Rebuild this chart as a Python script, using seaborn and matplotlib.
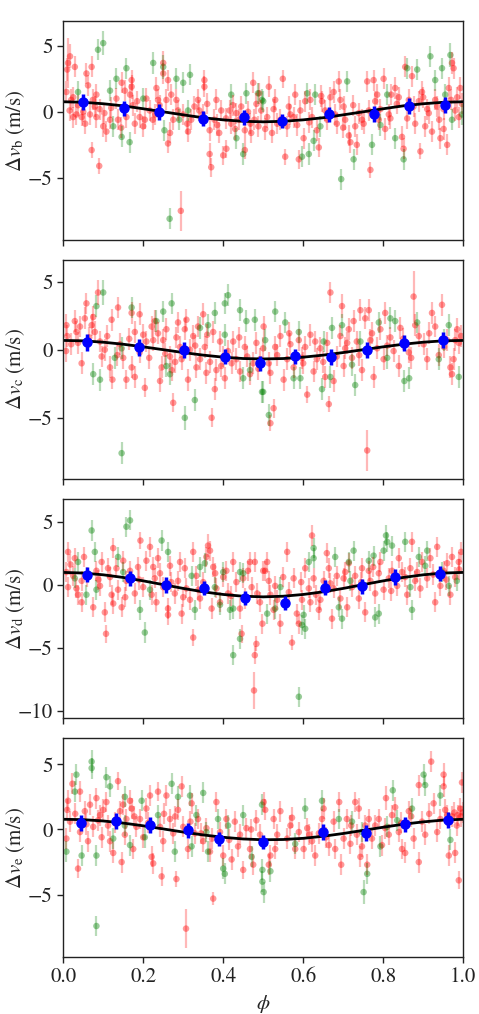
import matplotlib
matplotlib.use("Agg")
import matplotlib.pyplot as plt
import seaborn as sns

# Phase-folded RV residuals for planets b, c, d, e
# each point: (phase, dv [m/s], error [m/s])

# ---------- planet b ----------
red_b = [
    (0.012, 3.7, 1.9), (0.01, 3.2, 0.9), (0.017, 4.2, 0.9), (0.029, 3.4, 0.8), (0.008, 1.5, 0.8),
    (0.025, 1.1, 0.8), (0.033, -0.2, 0.8), (0.025, -0.4, 0.8), (0.046, -0.4, 0.7), (0.058, 2.9, 0.8),
    (0.062, 2.0, 0.8), (0.071, 3.4, 0.8), (0.071, -2.9, 0.6), (0.09, -4.1, 0.6), (0.083, 1.3, 0.8),
    (0.079, 0.4, 0.8), (0.067, -0.2, 0.8), (0.1, -1.1, 0.8), (0.108, -1.5, 0.8), (0.117, -0.6, 0.7),
    (0.083, -0.4, 0.8), (0.133, 1.0, 0.8), (0.146, 2.2, 0.8), (0.154, 1.6, 0.8), (0.171, 2.4, 0.8),
    (0.171, 1.9, 0.9), (0.167, 1.3, 0.8), (0.179, -0.9, 0.8), (0.2, -1.1, 0.8), (0.204, -0.6, 0.7),
    (0.208, 1.0, 0.8), (0.233, 1.8, 0.8), (0.237, 0.9, 0.8), (0.25, 3.7, 0.9), (0.25, 2.9, 0.8),
    (0.262, 2.4, 0.8), (0.258, 0.9, 0.8), (0.267, -1.6, 0.8), (0.262, -2.4, 0.7), (0.275, -0.6, 0.8),
    (0.283, 0.9, 0.8), (0.294, -7.5, 1.5), (0.312, -1.5, 0.8), (0.32, -0.6, 0.8), (0.337, 0.9, 0.8),
    (0.34, 0.1, 0.8), (0.353, 2.4, 0.8), (0.353, 1.9, 0.8), (0.366, -1.4, 0.8), (0.366, -3.2, 0.8),
    (0.37, -4.2, 0.7), (0.383, 0.9, 0.8), (0.39, -1.6, 0.8), (0.4, -3.3, 0.7), (0.408, -2.8, 0.7),
    (0.416, 0.1, 0.8), (0.42, -0.9, 0.8), (0.433, -0.1, 0.8), (0.454, -2.9, 0.7), (0.454, -1.4, 0.8),
    (0.47, -1.6, 0.8), (0.475, 2.2, 0.8), (0.483, 0.6, 0.8), (0.49, 1.4, 0.8),
    (0.016, 0.1, 0.8), (0.037, 0.5, 0.8), (0.05, 0.0, 0.8), (0.074, 0.9, 0.8), (0.091, 0.2, 0.8),
    (0.103, -0.1, 0.8), (0.137, -0.6, 0.8), (0.158, -0.4, 0.8), (0.174, 0.5, 0.8), (0.191, -0.4, 0.8),
    (0.216, 0.1, 0.8), (0.224, -0.6, 0.8), (0.241, 0.5, 0.8), (0.287, 0.1, 0.8), (0.3, -0.2, 0.8),
    (0.328, 0.4, 0.8), (0.349, -0.2, 0.8), (0.378, -0.6, 0.8), (0.395, 0.1, 0.8), (0.407, -0.5, 0.8),
    (0.424, 0.5, 0.8), (0.44, -0.6, 0.8), (0.462, 0.0, 0.8), (0.478, -0.6, 0.8), (0.495, 0.1, 0.8),
    (0.02, 0.9, 0.8), (0.055, -0.9, 0.8), (0.12, 0.3, 0.8), (0.145, -1.2, 0.8), (0.185, 0.8, 0.8),
    (0.23, -0.2, 0.8), (0.27, 1.3, 0.8), (0.31, -0.9, 0.8), (0.36, 0.6, 0.8), (0.385, -1.0, 0.8),
    (0.43, -1.3, 0.8), (0.445, 0.4, 0.8), (0.468, -0.9, 0.8), (0.488, -1.1, 0.8),
    (0.514, 1.9, 0.8), (0.505, -1.3, 0.8), (0.522, -1.6, 0.8), (0.535, -0.9, 0.8), (0.549, 2.5, 0.7),
    (0.555, -3.4, 0.6), (0.56, -1.1, 0.8), (0.564, 0.4, 0.8), (0.576, -0.4, 0.8), (0.58, 1.3, 0.8),
    (0.589, -3.6, 0.7), (0.601, -2.0, 0.8), (0.605, 0.8, 0.8), (0.618, 0.9, 0.8), (0.634, -1.4, 0.8),
    (0.639, -2.7, 0.7), (0.647, 0.8, 0.8), (0.655, 0.1, 0.8), (0.668, 1.1, 0.8), (0.676, 1.5, 0.8),
    (0.684, -0.9, 0.8), (0.689, 2.3, 0.8), (0.693, 0.9, 0.8), (0.701, 0.4, 0.8), (0.714, -1.8, 0.8),
    (0.718, -2.3, 0.8), (0.73, -1.1, 0.8), (0.734, -2.5, 0.8), (0.747, -0.6, 0.8), (0.751, -0.9, 0.8),
    (0.76, 2.3, 0.8), (0.768, -4.4, 0.6), (0.776, 2.4, 0.8), (0.785, 1.3, 0.8), (0.793, 0.2, 0.8),
    (0.801, 2.5, 0.8), (0.805, -1.3, 0.8), (0.818, -0.5, 0.8), (0.83, 1.8, 0.8), (0.839, 1.1, 0.8),
    (0.847, -1.9, 0.8), (0.851, -2.8, 0.8), (0.855, 3.4, 0.8), (0.864, 0.9, 0.8), (0.872, 2.7, 0.8),
    (0.88, -0.9, 0.8), (0.893, -3.0, 0.6), (0.897, 1.5, 0.8), (0.905, -1.1, 0.8), (0.914, -0.1, 0.8),
    (0.922, -1.5, 0.8), (0.93, 0.9, 0.8), (0.943, -2.0, 0.8), (0.951, -1.3, 0.8), (0.96, -2.5, 0.8),
    (0.964, 1.8, 0.8), (0.972, 3.7, 0.8), (0.976, 3.3, 0.8), (0.985, 1.1, 0.8), (0.993, 1.8, 0.8),
    (0.997, 0.6, 0.8),
    (0.51, -0.4, 0.8), (0.526, 0.2, 0.8), (0.543, -0.6, 0.8), (0.568, -0.2, 0.8), (0.593, 0.1, 0.8),
    (0.622, -0.4, 0.8), (0.66, -0.6, 0.8), (0.68, -0.2, 0.8), (0.705, -0.6, 0.8), (0.739, -0.1, 0.8),
    (0.764, 0.1, 0.8), (0.789, -0.6, 0.8), (0.814, -0.2, 0.8), (0.834, 0.6, 0.8), (0.876, 0.4, 0.8),
    (0.889, 0.8, 0.8), (0.91, 0.2, 0.8), (0.935, 0.4, 0.8), (0.951, 0.2, 0.8), (0.98, 0.1, 0.8),
    (0.989, -0.4, 0.8), (0.53, 0.9, 0.8), (0.585, -1.0, 0.8), (0.615, -0.8, 0.8), (0.645, 1.2, 0.8),
    (0.7, -1.2, 0.8), (0.725, 0.5, 0.8), (0.78, 0.8, 0.8), (0.82, 1.3, 0.8), (0.86, -0.5, 0.8),
    (0.9, 1.1, 0.8), (0.94, -0.6, 0.8), (0.97, 0.9, 0.8),
]
green_b = [
    (0.1, 5.2, 0.9), (0.087, 4.7, 0.8), (0.037, 1.5, 0.8), (0.117, 1.6, 0.8), (0.125, -1.1, 0.8),
    (0.133, 2.5, 0.8), (0.158, 3.3, 0.8), (0.146, -1.9, 0.8), (0.166, -2.3, 0.8), (0.2, 1.0, 0.8),
    (0.225, 3.7, 0.8), (0.25, 3.4, 0.9), (0.253, -1.4, 0.8), (0.266, -8.1, 0.8), (0.283, 2.5, 0.8),
    (0.3, 2.2, 0.8), (0.317, 2.8, 0.8), (0.312, 0.1, 0.8), (0.29, -0.6, 0.8), (0.42, 1.3, 0.8),
    (0.433, -2.0, 0.8), (0.45, -3.2, 0.8), (0.458, 1.4, 0.8), (0.487, 1.4, 0.8), (0.5, 0.8, 0.8),
    (0.497, 0.9, 0.8), (0.61, 1.4, 0.8), (0.63, 1.3, 0.8), (0.597, -3.4, 0.8), (0.614, -3.2, 0.8),
    (0.626, -2.2, 0.8), (0.643, -1.1, 0.8), (0.695, -5.1, 0.8), (0.71, 2.3, 0.8), (0.726, -3.6, 0.8),
    (0.772, -2.5, 0.8), (0.793, -1.0, 0.8), (0.81, 1.3, 0.8), (0.83, -2.0, 0.8), (0.851, -3.6, 0.8),
    (0.86, 3.3, 0.8), (0.885, 3.2, 0.8), (0.918, 4.2, 0.8), (0.93, 2.4, 0.8), (0.947, 3.3, 0.8),
    (0.968, 4.3, 0.9), (0.955, 1.3, 0.8), (0.972, -0.6, 0.8), (0.997, -0.2, 0.8),
]

# ---------- planet c ----------
red_c = [
    (0.008, 1.8, 0.8), (0.01, 1.0, 0.8), (0.007, -0.1, 0.8), (0.029, 2.1, 0.8), (0.033, 1.3, 0.8),
    (0.042, 1.7, 0.8), (0.046, -1.0, 0.8), (0.037, 0.5, 0.8), (0.054, 2.3, 0.8), (0.058, 3.4, 0.8),
    (0.071, 1.8, 0.8), (0.075, 2.4, 0.8), (0.079, 1.3, 0.8), (0.087, 4.2, 0.9), (0.092, 0.6, 0.8),
    (0.096, -0.5, 0.8), (0.104, 0.0, 0.8), (0.117, -1.3, 0.8), (0.121, 2.2, 0.8), (0.123, -2.2, 0.7),
    (0.137, 3.1, 0.8), (0.142, 0.4, 0.8), (0.15, -0.6, 0.8), (0.158, -2.2, 0.7), (0.171, -1.3, 0.8),
    (0.171, 2.7, 0.8), (0.179, -2.0, 0.8), (0.179, 1.3, 0.8), (0.191, 2.6, 0.8), (0.191, -0.2, 0.8),
    (0.204, -2.8, 0.7), (0.208, 0.6, 0.8), (0.221, 1.7, 0.8), (0.225, 0.7, 0.8), (0.229, 2.1, 0.8),
    (0.237, 1.2, 0.8), (0.242, -2.3, 0.8), (0.246, -1.3, 0.8), (0.25, 0.7, 0.8), (0.258, 1.5, 0.8),
    (0.267, -0.5, 0.8), (0.271, -1.5, 0.8), (0.275, -3.9, 0.7), (0.283, 0.9, 0.8), (0.287, 2.0, 0.8),
    (0.292, 0.2, 0.8), (0.296, -0.7, 0.8), (0.304, 1.5, 0.8), (0.308, 2.2, 0.8), (0.312, -2.2, 0.8),
    (0.317, 0.0, 0.8), (0.325, 1.0, 0.8), (0.333, -1.3, 0.8), (0.337, 1.7, 0.8), (0.342, -0.7, 0.8),
    (0.35, 2.6, 0.8), (0.354, 0.2, 0.8), (0.358, -1.7, 0.8), (0.367, -0.9, 0.8), (0.371, -5.0, 0.7),
    (0.375, 1.3, 0.8), (0.379, -2.9, 0.8), (0.383, -1.5, 0.8), (0.392, 0.6, 0.8), (0.4, -0.5, 0.8),
    (0.404, -2.1, 0.8), (0.412, -0.1, 0.8), (0.421, -1.0, 0.8), (0.425, 0.6, 0.8), (0.433, -0.7, 0.8),
    (0.442, -1.6, 0.8), (0.454, 0.2, 0.8), (0.467, -1.8, 0.8), (0.475, -1.0, 0.8), (0.483, 0.5, 0.8),
    (0.492, -0.7, 0.8), (0.5, 0.1, 0.8),
    (0.02, 0.4, 0.8), (0.065, 0.9, 0.8), (0.11, 1.0, 0.8), (0.135, -0.4, 0.8), (0.165, 0.8, 0.8),
    (0.2, 1.1, 0.8), (0.215, -0.6, 0.8), (0.255, -0.3, 0.8), (0.28, -0.9, 0.8), (0.33, 0.3, 0.8),
    (0.36, 1.1, 0.8), (0.395, -1.2, 0.8), (0.44, 0.9, 0.8), (0.46, -0.5, 0.8), (0.488, -1.4, 0.8),
    (0.501, 1.7, 0.8), (0.514, -1.0, 0.8), (0.518, -1.7, 0.8), (0.526, -4.3, 0.7), (0.518, -5.4, 0.6),
    (0.53, 0.2, 0.8), (0.543, 1.0, 0.8), (0.551, -2.2, 0.8), (0.56, -0.7, 0.8), (0.568, 0.4, 0.8),
    (0.576, -1.3, 0.8), (0.589, 0.7, 0.8), (0.597, -0.6, 0.8), (0.605, 0.2, 0.8), (0.61, -3.3, 0.6),
    (0.618, 1.1, 0.8), (0.626, -1.6, 0.8), (0.634, -0.7, 0.8), (0.643, 0.1, 0.8), (0.655, -2.0, 0.8),
    (0.66, 0.5, 0.8), (0.664, -4.0, 0.6), (0.668, 4.2, 0.8), (0.676, -2.3, 0.8), (0.684, -0.5, 0.8),
    (0.693, 1.0, 0.8), (0.697, 3.2, 0.9), (0.701, -1.2, 0.8), (0.71, 0.5, 0.8), (0.714, 1.5, 0.8),
    (0.722, -0.6, 0.8), (0.726, 2.1, 0.8), (0.734, 0.6, 0.8), (0.743, 2.9, 0.8), (0.747, -1.5, 0.8),
    (0.755, 2.3, 0.8), (0.76, -7.4, 1.5), (0.764, 2.9, 0.8), (0.768, 0.7, 0.8), (0.776, -2.0, 0.8),
    (0.785, 0.1, 0.8), (0.793, 1.5, 0.8), (0.801, -0.7, 0.8), (0.805, 2.7, 0.8), (0.818, 0.9, 0.8),
    (0.826, -0.1, 0.8), (0.839, -1.2, 0.8), (0.843, 1.6, 0.8), (0.864, -0.2, 0.8), (0.876, 3.9, 1.9),
    (0.88, 1.8, 0.8), (0.889, 1.0, 0.8), (0.901, 0.4, 0.8), (0.91, -0.7, 0.8), (0.922, 2.7, 0.8),
    (0.93, 1.7, 0.8), (0.939, -0.4, 0.8), (0.947, 3.3, 0.8), (0.96, 0.7, 0.8), (0.968, -1.3, 0.8),
    (0.976, -0.7, 0.8), (0.98, 0.7, 0.8), (0.989, 0.5, 0.8), (0.995, 1.0, 0.8), (0.972, -1.8, 0.8),
    (0.535, -0.4, 0.8), (0.565, 1.2, 0.8), (0.6, -1.0, 0.8), (0.63, 0.6, 0.8), (0.65, -0.9, 0.8),
    (0.705, 0.1, 0.8), (0.74, -0.4, 0.8), (0.772, 1.2, 0.8), (0.81, 0.3, 0.8), (0.85, 0.8, 0.8),
    (0.87, -0.6, 0.8), (0.915, 1.2, 0.8), (0.952, 0.2, 0.8), (0.985, 1.5, 0.8),
]
green_c = [
    (0.083, 3.2, 0.8), (0.1, 4.2, 0.9), (0.075, -1.8, 0.8), (0.092, -2.2, 0.8), (0.129, -0.6, 0.8),
    (0.146, -7.6, 0.8), (0.146, 0.1, 0.8), (0.171, 3.1, 0.8), (0.233, 2.1, 0.8), (0.25, 2.8, 0.8),
    (0.258, -1.2, 0.8), (0.271, 3.4, 0.8), (0.267, -1.8, 0.8), (0.304, -5.0, 0.9), (0.329, -3.7, 0.8),
    (0.342, 1.6, 0.8), (0.362, 1.8, 0.8), (0.379, 2.7, 0.8), (0.404, 3.4, 0.8), (0.412, 4.0, 0.8),
    (0.404, 1.1, 0.8), (0.442, 2.9, 0.8), (0.45, -2.1, 0.8), (0.458, 2.1, 0.8), (0.467, -1.5, 0.8),
    (0.479, 2.2, 0.8), (0.5, -3.1, 0.8),
    (0.497, -3.1, 0.8), (0.514, -4.8, 0.8), (0.53, 2.8, 0.8), (0.555, 2.0, 0.8), (0.505, 0.7, 0.8),
    (0.576, -2.1, 0.8), (0.589, 1.3, 0.8), (0.593, -2.1, 0.8), (0.647, -2.9, 0.8), (0.651, 0.6, 0.8),
    (0.672, 1.6, 0.8), (0.668, -2.0, 0.8), (0.697, 1.8, 0.8), (0.722, -1.1, 0.8), (0.73, -2.6, 0.8),
    (0.743, 0.6, 0.8), (0.789, 2.0, 0.8), (0.81, -0.6, 0.8), (0.818, 2.3, 0.8), (0.83, 2.1, 0.8),
    (0.853, -2.3, 0.8), (0.865, -2.1, 0.8), (0.885, 2.0, 0.8), (0.964, 1.8, 0.8), (0.989, -2.0, 0.8),
    (0.939, -0.7, 0.8), (0.951, 0.7, 0.8),
]

# ---------- planet d ----------
red_d = [
    (0.012, 2.6, 0.8), (0.008, 1.0, 0.8), (0.012, -0.2, 0.8), (0.025, 0.7, 0.8), (0.029, 2.1, 0.8),
    (0.033, -0.3, 0.8), (0.037, -0.8, 0.8), (0.046, -1.4, 0.8), (0.052, 2.2, 0.8), (0.046, 0.3, 0.8),
    (0.075, -1.8, 0.8), (0.083, 1.1, 0.8), (0.092, -0.1, 0.8), (0.096, 1.8, 0.8), (0.104, -2.2, 0.8),
    (0.107, -3.9, 0.7), (0.117, 0.6, 0.8), (0.121, -0.8, 0.8), (0.125, -1.5, 0.8), (0.125, 2.9, 0.8),
    (0.133, 1.3, 0.8), (0.137, -0.4, 0.8), (0.146, -1.8, 0.8), (0.15, 1.9, 0.8), (0.158, 0.3, 0.8),
    (0.167, 1.1, 0.8), (0.179, -0.7, 0.8), (0.187, 1.4, 0.8), (0.193, 3.5, 0.7), (0.2, -0.2, 0.8),
    (0.208, 1.9, 0.8), (0.217, 3.0, 0.8), (0.221, -0.8, 0.8), (0.229, 0.5, 0.8), (0.233, -1.4, 0.8),
    (0.237, 2.1, 0.8), (0.242, 0.9, 0.8), (0.25, -0.2, 0.8), (0.262, -1.9, 0.8), (0.262, -2.4, 0.8),
    (0.267, 1.5, 0.8), (0.279, -0.7, 0.8), (0.287, 0.3, 0.8), (0.292, 1.8, 0.8), (0.296, -2.3, 0.8),
    (0.304, 1.3, 0.8), (0.308, -0.3, 0.8), (0.317, -1.2, 0.8), (0.325, -4.2, 0.7), (0.325, 2.6, 0.8),
    (0.333, 0.7, 0.8), (0.342, -1.1, 0.8), (0.35, 0.2, 0.8), (0.358, 2.2, 0.8), (0.362, 3.1, 0.9),
    (0.367, 2.7, 0.8), (0.371, -1.9, 0.8), (0.375, 1.4, 0.8), (0.383, -0.3, 0.8), (0.392, -1.4, 0.8),
    (0.4, 0.6, 0.8), (0.408, 1.1, 0.8), (0.412, -0.7, 0.8), (0.425, 1.8, 0.8), (0.433, 0.2, 0.8),
    (0.442, -1.9, 0.8), (0.446, -3.9, 0.7), (0.454, -1.1, 0.8), (0.462, 1.1, 0.8), (0.467, 1.8, 0.8),
    (0.471, -0.2, 0.8), (0.479, 1.8, 0.8), (0.479, -5.6, 0.7), (0.483, -4.7, 0.6), (0.477, -8.4, 1.5),
    (0.492, -1.4, 0.8), (0.498, -3.1, 0.8), (0.5, 1.1, 0.8),
    (0.018, 1.6, 0.8), (0.06, 0.6, 0.8), (0.088, 0.4, 0.8), (0.112, 1.3, 0.8), (0.155, -1.0, 0.8),
    (0.19, 0.4, 0.8), (0.225, 1.4, 0.8), (0.27, 0.2, 0.8), (0.3, -1.0, 0.8), (0.338, -0.4, 0.8),
    (0.38, 0.9, 0.8), (0.42, -0.9, 0.8), (0.45, 0.5, 0.8), (0.485, -0.7, 0.8),
    (0.51, 1.8, 0.8), (0.505, 1.1, 0.8), (0.514, 0.3, 0.8), (0.518, -0.8, 0.8), (0.526, -2.0, 0.8),
    (0.53, -0.1, 0.8), (0.543, -3.1, 0.8), (0.56, 2.6, 0.8), (0.564, -0.6, 0.8), (0.572, -4.6, 0.6),
    (0.576, 0.5, 0.8), (0.584, -2.3, 0.8), (0.589, -3.1, 0.8), (0.597, -1.2, 0.8), (0.605, 1.3, 0.8),
    (0.614, -0.3, 0.8), (0.618, -1.4, 0.8), (0.622, 3.9, 0.8), (0.626, 0.5, 0.8), (0.639, -2.0, 0.8),
    (0.643, -1.2, 0.8), (0.651, 0.3, 0.8), (0.659, 2.5, 0.8), (0.664, 1.3, 0.8), (0.672, -2.7, 0.8),
    (0.676, -0.3, 0.8), (0.684, 0.7, 0.8), (0.693, -1.1, 0.8), (0.701, 0.5, 0.8), (0.71, -1.8, 0.8),
    (0.714, 1.7, 0.8), (0.722, -0.2, 0.8), (0.73, 0.7, 0.8), (0.739, -1.1, 0.8), (0.747, 1.3, 0.8),
    (0.755, -2.2, 0.8), (0.764, 1.1, 0.8), (0.768, 0.3, 0.8), (0.78, -0.7, 0.8), (0.789, 0.9, 0.8),
    (0.793, 1.8, 0.8), (0.801, -0.4, 0.8), (0.814, 0.5, 0.8), (0.822, 1.1, 0.8), (0.835, -0.1, 0.8),
    (0.839, 2.1, 0.8), (0.847, 1.0, 0.8), (0.86, -0.8, 0.8), (0.868, 1.3, 0.8), (0.872, 3.4, 0.8),
    (0.88, 0.3, 0.8), (0.893, -0.3, 0.8), (0.897, 1.8, 0.8), (0.91, 0.5, 0.8), (0.918, 2.1, 0.8),
    (0.93, -1.4, 0.8), (0.935, 3.0, 0.8), (0.943, -0.1, 0.8), (0.951, 1.1, 0.8), (0.96, 1.7, 0.8),
    (0.968, -0.8, 0.8), (0.972, 2.2, 0.8), (0.98, 0.6, 0.8), (0.989, 1.8, 0.8), (0.995, 2.6, 0.8),
    (0.535, -1.2, 0.8), (0.55, 0.6, 0.8), (0.595, 0.2, 0.8), (0.632, -0.8, 0.8), (0.668, 0.1, 0.8),
    (0.705, 1.0, 0.8), (0.745, 0.2, 0.8), (0.775, 1.4, 0.8), (0.82, -0.5, 0.8), (0.855, 0.6, 0.8),
    (0.885, 1.0, 0.8), (0.925, 0.8, 0.8), (0.958, 0.4, 0.8), (0.99, 1.2, 0.8),
]
green_d = [
    (0.037, 1.8, 0.8), (0.029, 0.5, 0.8), (0.058, -0.8, 0.8), (0.071, 4.3, 0.8), (0.079, 2.6, 0.8),
    (0.083, -0.4, 0.8), (0.158, 4.6, 0.8), (0.167, 5.1, 0.8), (0.137, 2.2, 0.8), (0.15, 1.0, 0.8),
    (0.192, -2.0, 0.8), (0.204, -3.8, 0.8), (0.217, -0.4, 0.8), (0.246, 3.5, 0.8), (0.262, 2.6, 0.8),
    (0.321, 0.7, 0.8), (0.329, -2.0, 0.8), (0.342, 1.4, 0.8), (0.354, 1.7, 0.8), (0.392, -1.6, 0.8),
    (0.4, 1.0, 0.8), (0.417, -2.0, 0.8), (0.425, -1.9, 0.8), (0.442, 1.0, 0.8), (0.45, 0.9, 0.8),
    (0.425, -5.6, 0.8), (0.442, -4.3, 0.8), (0.379, -0.2, 0.8),
    (0.51, -2.3, 0.8), (0.53, -1.9, 0.8), (0.543, -0.2, 0.8), (0.589, -8.9, 0.8), (0.597, -3.2, 0.8),
    (0.605, -3.5, 0.8), (0.601, -2.4, 0.8), (0.614, 1.8, 0.8), (0.626, 2.9, 0.8), (0.626, 2.1, 0.8),
    (0.68, 2.2, 0.8), (0.689, -1.8, 0.8), (0.697, -2.7, 0.8), (0.714, 1.8, 0.8), (0.718, 0.3, 0.8),
    (0.726, 2.7, 0.8), (0.764, 1.9, 0.8), (0.776, 2.3, 0.8), (0.78, -2.6, 0.8), (0.789, -2.3, 0.8),
    (0.801, 2.7, 0.8), (0.807, 3.9, 0.8), (0.81, 3.4, 0.8), (0.822, 3.1, 0.8), (0.855, 3.4, 0.8),
    (0.868, -0.2, 0.8), (0.872, -2.0, 0.8), (0.889, 2.2, 0.8), (0.905, 1.5, 0.8), (0.91, 2.7, 0.8),
    (0.947, 1.0, 0.8), (0.964, -0.1, 0.8), (0.984, 0.3, 0.8),
]

# ---------- planet e ----------
red_e = [
    (0.012, 2.2, 0.8), (0.01, 1.5, 0.8), (0.008, -0.7, 0.8), (0.017, 0.6, 0.8), (0.023, 3.5, 0.8),
    (0.037, -3.0, 0.7), (0.042, -0.2, 0.8), (0.042, 2.9, 0.8), (0.054, 1.4, 0.8), (0.062, -0.9, 0.8),
    (0.067, 1.9, 0.8), (0.075, 0.2, 0.8), (0.083, 2.4, 0.8), (0.087, 0.7, 0.8), (0.096, -0.6, 0.8),
    (0.1, 1.5, 0.8), (0.108, 2.1, 0.8), (0.117, -0.9, 0.8), (0.125, -1.8, 0.8), (0.129, 0.5, 0.8),
    (0.137, 3.7, 0.7), (0.142, 1.4, 0.8), (0.146, -2.5, 0.8), (0.154, -0.4, 0.8), (0.158, 0.8, 0.8),
    (0.167, 2.2, 0.8), (0.171, 1.6, 0.8), (0.175, -1.5, 0.8), (0.183, 0.2, 0.8), (0.192, 0.8, 0.8),
    (0.2, -0.6, 0.8), (0.208, 1.6, 0.8), (0.217, 2.6, 0.8), (0.221, -2.1, 0.8), (0.225, -2.6, 0.8),
    (0.237, 2.9, 0.7), (0.242, 0.2, 0.8), (0.246, -3.6, 0.7), (0.25, -0.9, 0.8), (0.258, 2.6, 0.8),
    (0.267, 0.8, 0.8), (0.275, -0.3, 0.8), (0.283, -3.8, 0.6), (0.287, 1.5, 0.8), (0.296, 3.3, 0.8),
    (0.3, 0.2, 0.8), (0.307, -7.6, 1.5), (0.312, -1.5, 0.8), (0.321, 2.0, 0.8), (0.329, -0.3, 0.8),
    (0.337, 0.8, 0.8), (0.35, -0.9, 0.8), (0.358, 0.1, 0.8), (0.367, -1.7, 0.8), (0.375, -5.3, 0.5),
    (0.383, 2.1, 0.8), (0.392, -0.2, 0.8), (0.4, -2.0, 0.8), (0.408, 0.8, 0.8), (0.421, -2.3, 0.8),
    (0.429, 0.6, 0.8), (0.442, -0.4, 0.8), (0.45, -3.1, 0.7), (0.458, 0.1, 0.8), (0.467, -1.5, 0.8),
    (0.475, -2.7, 0.8), (0.483, 0.7, 0.8), (0.492, -0.4, 0.8),
    (0.03, 1.2, 0.8), (0.058, 0.4, 0.8), (0.092, 1.1, 0.8), (0.112, 0.3, 0.8), (0.15, 1.9, 0.8),
    (0.178, 1.0, 0.8), (0.212, 0.5, 0.8), (0.252, 1.2, 0.8), (0.28, 1.0, 0.8), (0.318, 0.6, 0.8),
    (0.345, -0.3, 0.8), (0.372, -0.7, 0.8), (0.415, -0.8, 0.8), (0.437, -1.3, 0.8), (0.47, 0.0, 0.8),
    (0.501, 2.1, 0.8), (0.505, 1.5, 0.8), (0.514, -2.7, 0.8), (0.518, -2.0, 0.8), (0.526, 0.8, 0.8),
    (0.53, -1.5, 0.8), (0.543, 1.4, 0.8), (0.56, -0.7, 0.8), (0.568, 0.3, 0.8), (0.58, -1.5, 0.8),
    (0.589, -0.2, 0.8), (0.601, -1.5, 0.8), (0.61, 0.1, 0.8), (0.622, -0.9, 0.8), (0.63, -2.0, 0.8),
    (0.639, -0.3, 0.8), (0.647, 0.8, 0.8), (0.651, 1.6, 0.8), (0.664, -1.2, 0.8), (0.676, 0.6, 0.8),
    (0.68, -1.5, 0.8), (0.69, 2.1, 0.8), (0.695, -2.7, 0.8), (0.701, -0.7, 0.8), (0.709, 0.8, 0.8),
    (0.718, -1.1, 0.8), (0.73, 2.1, 0.8), (0.734, -0.4, 0.8), (0.739, 1.6, 0.8), (0.743, -2.1, 0.8),
    (0.747, -1.3, 0.8), (0.76, -2.7, 0.8), (0.764, 0.8, 0.8), (0.772, -0.7, 0.8), (0.78, 0.3, 0.8),
    (0.789, 0.8, 0.8), (0.797, -1.2, 0.8), (0.807, 2.4, 0.9), (0.814, -0.4, 0.8), (0.822, 1.1, 0.8),
    (0.83, 1.7, 0.8), (0.839, -0.2, 0.8), (0.847, -1.5, 0.8), (0.855, -1.8, 0.8), (0.864, 1.4, 0.8),
    (0.876, -0.7, 0.8), (0.889, -2.5, 0.8), (0.889, 3.4, 0.8), (0.897, 0.6, 0.8), (0.905, -0.4, 0.8),
    (0.92, 5.2, 0.8), (0.926, 2.0, 0.8), (0.935, -0.2, 0.8), (0.943, 0.8, 0.8), (0.951, 4.2, 0.9),
    (0.951, 3.3, 0.8), (0.955, 1.5, 0.8), (0.964, -2.0, 0.8), (0.972, 1.0, 0.8), (0.98, -1.8, 0.8),
    (0.984, 0.3, 0.8), (0.989, -3.9, 0.7), (0.993, 1.6, 0.8), (0.997, 3.6, 0.8), (0.995, 1.0, 0.8),
    (0.535, -0.4, 0.8), (0.572, 0.9, 0.8), (0.615, -0.4, 0.8), (0.657, -0.6, 0.8), (0.72, 0.3, 0.8),
    (0.755, 0.3, 0.8), (0.805, 0.1, 0.8), (0.845, 0.5, 0.8), (0.87, 1.0, 0.8), (0.915, 1.2, 0.8),
    (0.96, 1.1, 0.8), (0.978, 1.3, 0.8), (0.986, 1.1, 0.8), (0.999, 1.3, 0.8),
]
green_e = [
    (0.008, -1.7, 0.8), (0.033, 4.2, 0.8), (0.029, 2.9, 0.8), (0.046, -2.0, 0.8), (0.071, 5.2, 0.9),
    (0.071, 4.7, 0.8), (0.083, -2.0, 0.8), (0.083, -7.4, 0.8), (0.108, 4.0, 0.8), (0.117, 3.3, 0.8),
    (0.125, -0.7, 0.8), (0.154, 2.5, 0.8), (0.154, 0.3, 0.8), (0.167, -1.2, 0.8), (0.196, 2.2, 0.8),
    (0.204, -0.6, 0.8), (0.237, 1.1, 0.8), (0.271, 3.5, 0.8), (0.279, -1.7, 0.8), (0.287, 2.5, 0.8),
    (0.317, 2.6, 0.8), (0.321, -1.3, 0.8), (0.333, 1.1, 0.8), (0.35, 2.8, 0.8), (0.358, -0.2, 0.8),
    (0.362, -1.7, 0.8), (0.387, 0.8, 0.8), (0.4, -3.0, 0.8), (0.404, -3.4, 0.8), (0.412, 0.3, 0.8),
    (0.45, 1.1, 0.8), (0.471, -2.1, 0.8), (0.498, -3.1, 0.8), (0.498, -4.0, 0.8),
    (0.501, -4.8, 0.8), (0.518, -3.2, 0.8), (0.497, 1.9, 0.8), (0.58, -1.1, 0.8), (0.605, 1.6, 0.8),
    (0.647, 2.2, 0.8), (0.689, 0.8, 0.8), (0.722, 0.6, 0.8), (0.747, -0.2, 0.8), (0.751, -4.8, 0.9),
    (0.76, -3.4, 0.8), (0.793, -1.3, 0.8), (0.81, 0.2, 0.8), (0.824, 3.0, 0.8), (0.835, 0.7, 0.8),
    (0.872, 1.6, 0.8), (0.901, 4.2, 0.8), (0.905, 3.4, 0.8), (0.943, 2.6, 0.8), (0.968, -0.8, 0.8),
]

# binned residuals (blue)
bin_phase_b = [0.05, 0.152, 0.239, 0.349, 0.452, 0.546, 0.664, 0.776, 0.865, 0.954]
bin_dv_b = [0.76, 0.25, 0.0, -0.51, -0.43, -0.69, -0.2, -0.18, 0.43, 0.51]
bin_phase_c = [0.06, 0.19, 0.301, 0.404, 0.491, 0.58, 0.67, 0.759, 0.852, 0.95]
bin_dv_c = [0.54, 0.17, -0.02, -0.51, -1.0, -0.49, -0.56, -0.02, 0.47, 0.71]
bin_phase_d = [0.06, 0.168, 0.256, 0.353, 0.455, 0.554, 0.654, 0.746, 0.829, 0.943]
bin_dv_d = [0.77, 0.51, -0.03, -0.24, -1.06, -1.49, -0.24, -0.13, 0.61, 0.85]
bin_phase_e = [0.044, 0.131, 0.216, 0.312, 0.39, 0.499, 0.649, 0.757, 0.854, 0.961]
bin_dv_e = [0.51, 0.67, 0.33, -0.08, -0.74, -0.95, -0.18, -0.26, 0.38, 0.72]
bin_err = [0.6, 0.6, 0.6, 0.55, 0.55, 0.55, 0.6, 0.6, 0.6, 0.6]

# Keplerian model curves (black)
model_phase = [0.0, 0.05, 0.1, 0.15, 0.2, 0.25, 0.3, 0.35, 0.4, 0.45, 0.5,
               0.55, 0.6, 0.65, 0.7, 0.75, 0.8, 0.85, 0.9, 0.95, 1.0]
model_b = [0.76, 0.72, 0.61, 0.45, 0.23, 0.0, -0.23, -0.45, -0.61, -0.72, -0.76,
           -0.72, -0.61, -0.45, -0.23, 0.0, 0.23, 0.45, 0.61, 0.72, 0.76]
model_c = [0.68, 0.65, 0.55, 0.4, 0.21, 0.0, -0.21, -0.4, -0.55, -0.65, -0.68,
           -0.65, -0.55, -0.4, -0.21, 0.0, 0.21, 0.4, 0.55, 0.65, 0.68]
model_d = [0.97, 0.92, 0.78, 0.57, 0.3, 0.0, -0.3, -0.57, -0.78, -0.92, -0.97,
           -0.92, -0.78, -0.57, -0.3, 0.0, 0.3, 0.57, 0.78, 0.92, 0.97]
model_e = [0.78, 0.75, 0.65, 0.49, 0.28, 0.04, -0.2, -0.42, -0.6, -0.73, -0.79,
           -0.77, -0.68, -0.52, -0.31, -0.07, 0.17, 0.4, 0.58, 0.72, 0.78]

panels = [
    ("b", red_b, green_b, bin_phase_b, bin_dv_b, model_b, (-9.7, 6.9), [-5, 0, 5]),
    ("c", red_c, green_c, bin_phase_c, bin_dv_c, model_c, (-9.5, 6.6), [-5, 0, 5]),
    ("d", red_d, green_d, bin_phase_d, bin_dv_d, model_d, (-10.6, 6.8), [-10, -5, 0, 5]),
    ("e", red_e, green_e, bin_phase_e, bin_dv_e, model_e, (-9.8, 7.0), [-5, 0, 5]),
]

sns.set_theme(style="ticks", color_codes=False)
plt.rcParams["font.family"] = ["STIXGeneral", "DejaVu Serif"]
plt.rcParams["mathtext.fontset"] = "stix"
plt.rcParams["font.size"] = 15
plt.rcParams["axes.unicode_minus"] = True

RED = "#ff0000"
GREEN = "#008000"
BLUE = "#0000ff"

fig, axes = plt.subplots(4, 1, figsize=(4.79, 10.14), dpi=100, sharex=True)
fig.subplots_adjust(left=0.132, right=0.967, top=0.9796, bottom=0.0559, hspace=0.091)

for ax, (name, red, green, bph, bdv, model, ylim, yticks) in zip(axes, panels):
    for pts, col in [(red, RED), (green, GREEN)]:
        ph = [p[0] for p in pts]
        dv = [p[1] for p in pts]
        er = [p[2] for p in pts]
        ax.errorbar(ph, dv, yerr=er, fmt="none", ecolor=col, elinewidth=1.6, alpha=0.28)
        sns.scatterplot(x=ph, y=dv, color=col, alpha=0.4, s=22, edgecolor="none", ax=ax)

    sns.lineplot(x=model_phase, y=model, color="k", linewidth=2, sort=False, ax=ax)
    ax.errorbar(bph, bdv, yerr=bin_err, fmt="o", color=BLUE, markersize=6.5,
                elinewidth=2.5, capsize=0, zorder=5)

    ax.set_xlim(0, 1)
    ax.set_ylim(*ylim)
    ax.set_yticks(yticks)
    ax.set_ylabel(r"$\Delta v_{\rm " + name + r"}$ (m/s)", fontsize=15)
    ax.tick_params(labelsize=15, length=4, width=1, direction="out", colors="#222222")
    for sp in ax.spines.values():
        sp.set_linewidth(1.0)
        sp.set_color("#222222")

# the "-10" tick of panel d would push its label off the canvas;
# the label sits well above that tick, so line it up with the others
for ax in axes:
    ax.yaxis.set_label_coords(-0.09, 0.5)

axes[-1].set_xticks([0.0, 0.2, 0.4, 0.6, 0.8, 1.0])
axes[-1].set_xlabel(r"$\phi$", fontsize=15)

fig.savefig("out.png", dpi=100)
